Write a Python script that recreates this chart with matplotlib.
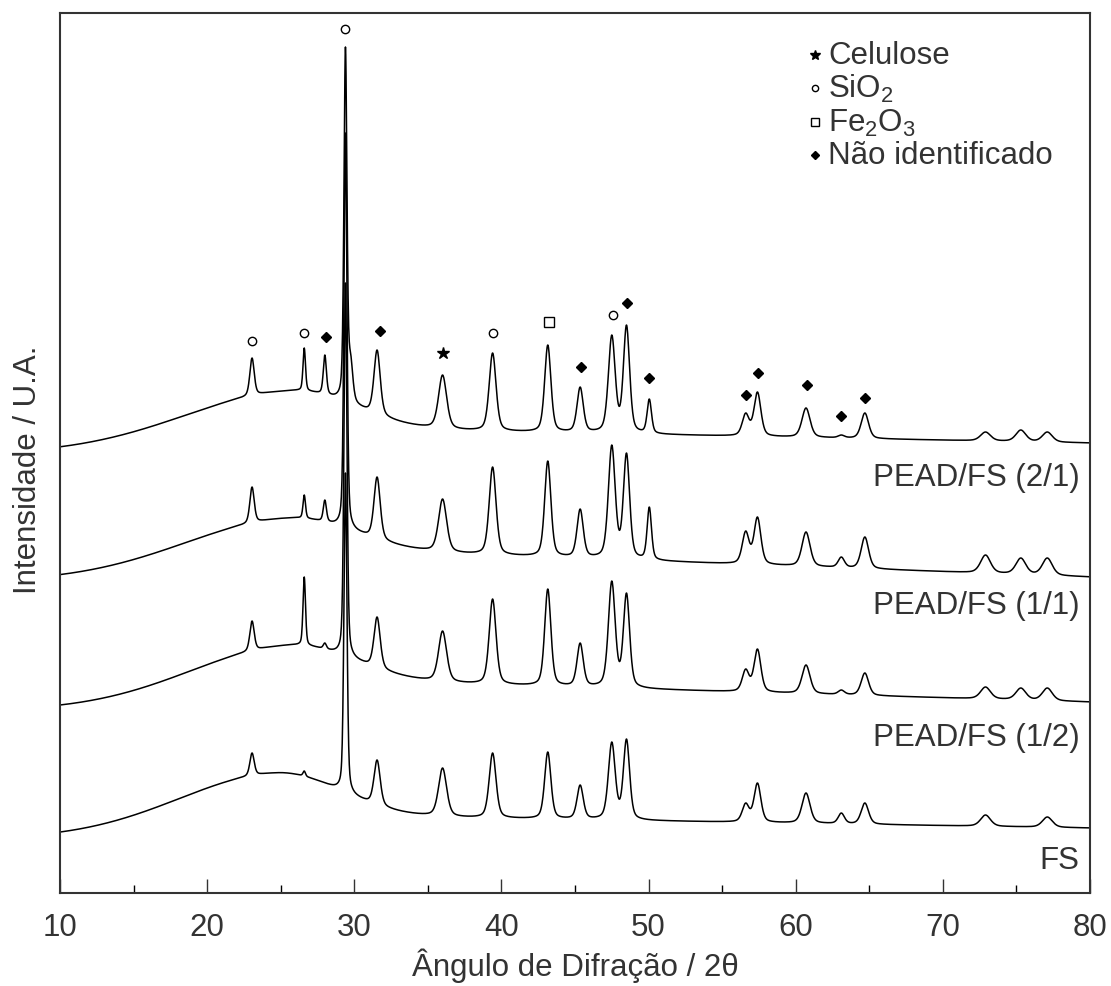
import matplotlib.pyplot as plt
import numpy as np

plt.rcParams['font.family'] = ['Liberation Sans', 'DejaVu Sans']
plt.rcParams['mathtext.default'] = 'regular'

# 2theta grid
two_theta = np.arange(10, 80.001, 0.02)

# peak positions (deg) and FWHM (deg), shared by all samples
peak_pos = [23.05, 26.6, 28.0, 29.4, 29.75, 31.55, 36.0, 39.4, 43.15, 45.35, 47.5,
            48.5, 50.05, 56.6, 57.4, 60.7, 63.1, 64.7, 72.9, 75.3, 77.1]
peak_fwhm = [0.35, 0.2, 0.25, 0.24, 0.35, 0.5, 0.65, 0.55, 0.5, 0.5, 0.55,
             0.5, 0.35, 0.55, 0.55, 0.65, 0.5, 0.6, 0.8, 0.8, 0.8]

# peak tip heights (None = no peak)
tips_21 = [535, 545, 538, 846, 540, 543, 518, 540, 548, 506, 558,
           568, 494, 480, 501, 485, 458, 480, 461, 463, 461]
tips_11 = [406, 398, 393, 760, None, 416, 394, 426, 432, 384, 448,
           440, 386, 362, 376, 361, 336, 356, 338, 335, 335]
tips_12 = [272, 316, 250, 610, None, 276, 262, 294, 304, 250, 312,
           300, None, 224, 244, 228, 203, 220, 206, 205, 205]
tips_fs = [140, 122, None, 420, None, 133, 125, 140, 141, 108, 151,
           154, None, 90, 110, 100, 80, 90, 78, None, 76]

# background: left level, right level, hump centre, hump amp, tail amp, sigma left, sigma right
bg_21 = [440, 450, 26, 37, 23, 7.5, 4]
bg_11 = [312, 316, 26, 30, 32, 7.5, 4]
bg_12 = [183, 191, 26, 34, 29, 7.1, 4]
bg_fs = [55, 65, 25, 42, 21, 6.9, 4]

labels = ["PEAD/FS (2/1)", "PEAD/FS (1/1)", "PEAD/FS (1/2)", "FS"]
label_y = [416, 288, 156, 33]

# phase markers above the top pattern
mark_x = [23.05, 26.6, 28.1, 29.4, 31.75, 36.0, 39.4, 43.2, 45.4, 47.55, 48.5,
          50.0, 56.6, 57.45, 60.8, 63.1, 64.7]
mark_y = [552, 560, 556, 864, 562, 540, 560, 571, 526, 578, 590,
          515, 498, 520, 508, 477, 495]
mark_kind = ["o", "o", "D", "o", "D", "*", "o", "s", "D", "o", "D",
             "D", "D", "D", "D", "D", "D"]

ETA = 0.4  # lorentzian fraction of the peak profile


def background(x, p):
    bl, br, c, a, t, sl, sr = p
    base = bl + (br - bl) * (x - 10) / 70
    left = (a + t) * np.exp(-(x - c) ** 2 / (2 * sl ** 2))
    right = a * np.exp(-(x - c) ** 2 / (2 * sr ** 2)) + t * (80 - x) / (80 - c)
    return base + np.where(x < c, left, right)


def profile(x, pos, w):
    s = w / 2.3548
    g = np.exp(-(x - pos) ** 2 / (2 * s ** 2))
    l = 1 / (1 + ((x - pos) / (w / 2)) ** 2)
    return ETA * l + (1 - ETA) * g


def pattern(x, tips, bgp):
    used = [(p, w, t) for p, w, t in zip(peak_pos, peak_fwhm, tips) if t is not None]
    pos = np.array([u[0] for u in used])
    wid = np.array([u[1] for u in used])
    tgt = np.array([u[2] for u in used], dtype=float)
    # amplitudes so that the summed curve hits the read tips
    M = np.array([[profile(pi, pj, wj) for pj, wj in zip(pos, wid)] for pi in pos])
    amp = np.linalg.solve(M, tgt - background(pos, bgp))
    amp = np.clip(amp, 0, None)
    y = background(x, bgp)
    for p, w, a in zip(pos, wid, amp):
        y = y + a * profile(x, p, w)
    return y


fig = plt.figure(figsize=(11.11, 9.87), dpi=100)
ax = fig.add_axes([60 / 1111, 1 - 894 / 987, 1030 / 1111, 880 / 987])

for tips, bgp in [(tips_21, bg_21), (tips_11, bg_11), (tips_12, bg_12), (tips_fs, bg_fs)]:
    ax.plot(two_theta, pattern(two_theta, tips, bgp), color="black", lw=1.1)

fs = 22.5
tc = "#333333"
for lab, ly in zip(labels, label_y):
    ax.text(79.3, ly, lab, ha="right", va="center", fontsize=fs, color=tc)

msize = {"o": 6, "s": 7, "D": 5.2, "*": 9}
for mx, my, mk in zip(mark_x, mark_y, mark_kind):
    filled = mk in ("D", "*")
    ax.plot(mx, my, marker=mk, ms=msize[mk], mec="black", mew=1.0,
            mfc="black" if filled else "white", ls="none")

# legend of phases
leg_text = ["Celulose", "SiO$_2$", "Fe$_2$O$_3$", "Não identificado"]
leg_mark = ["*", "o", "s", "D"]
leg_y = [838, 805, 771, 738]
for txt, mk, ly in zip(leg_text, leg_mark, leg_y):
    filled = mk in ("D", "*")
    ax.plot(61.3, ly, marker=mk, ms={"o": 4.5, "s": 5.5, "D": 4, "*": 7}[mk],
            mec="black", mew=1.0, mfc="black" if filled else "white", ls="none")
    ax.text(62.2, ly, txt, ha="left", va="center", fontsize=fs, color=tc)

ax.set_xlim(10, 80)
ax.set_ylim(0, 880)
ax.set_xticks(range(10, 81, 10))
ax.set_xticks(range(15, 80, 10), minor=True)
ax.set_yticks([])
ax.tick_params(axis="x", which="major", direction="in", length=10, width=1,
               labelsize=fs, pad=14, colors=tc)
ax.tick_params(axis="x", which="minor", direction="in", length=6, width=1)
for sp in ax.spines.values():
    sp.set_linewidth(1.5)
    sp.set_color("#333333")

fig.text(575 / 1111, 1 - 966 / 987, "Ângulo de Difração / 2θ",
         ha="center", va="center", fontsize=fs, color=tc)
fig.text(28 / 1111, 1 - 470 / 987, "Intensidade / U.A.", rotation=90,
         ha="center", va="center", fontsize=fs, color=tc)

fig.savefig("out.png", dpi=100)
